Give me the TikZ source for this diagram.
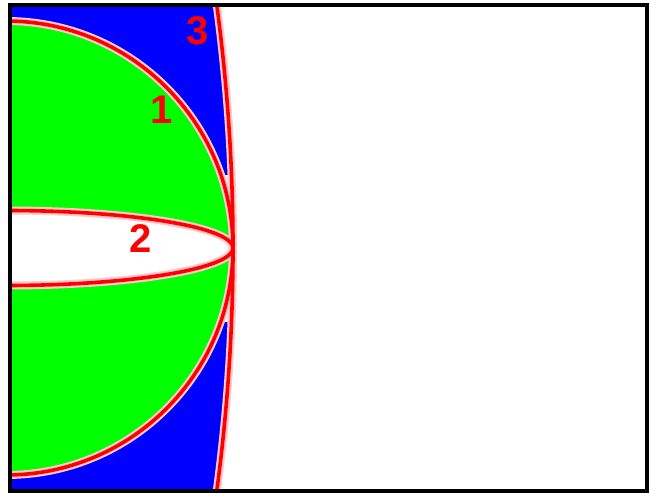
\documentclass[tikz,border=0pt]{standalone}
\usepackage{fontspec}
\setmainfont{Liberation Sans}
\definecolor{region}{RGB}{0,0,255}
\definecolor{disc}{RGB}{0,255,0}
\definecolor{front}{RGB}{255,0,0}
\tikzset{
  frontline/.style={draw=front, line width=1.8pt},
  frontglow/.style={draw=front!22, line width=4pt},
  tag/.style={text=front, font=\fontsize{20}{20}\selectfont\bfseries, inner sep=0pt}
}

\begin{document}
\begin{tikzpicture}[x=0.5pt,y=0.5pt]
  \useasboundingbox (0,0) rectangle (650,493);
  \coordinate (sw) at (12,4);
  \coordinate (ne) at (645.5,486);
  \coordinate (mid) at (6,245);
  \coordinate (f3top) at (216.5,490);
  \coordinate (f3bot) at (216.5,0);
  \begin{scope}
    \clip (sw) rectangle (ne);
    % blue strip, dropped where it gets too thin
    \begin{scope}
      \clip (0,0) rectangle (650,171) (0,318) rectangle (650,493);
      \fill[region] (0,490) -- (f3top) .. controls (238.5,326.7) and (238.5,163.3) .. (f3bot) -- (0,0) -- cycle;
    \end{scope}
    \fill[disc] (mid) circle[radius=227];
    \fill[white] (mid) ellipse[x radius=227, y radius=37.5];
    % fronts
    \foreach \sty in {frontglow,frontline} {
      \draw[\sty] (mid) circle[radius=227];
      \draw[\sty] (mid) ellipse[x radius=227, y radius=37.5];
      \draw[\sty] (f3top) .. controls (238.5,326.7) and (238.5,163.3) .. (f3bot);
    }
  \end{scope}
  \node[tag] (lblthree) at (198,462) {3};
  \node[tag] (lblone) at (162,383) {1};
  \node[tag] (lbltwo) at (141,254) {2};
  \draw[line width=2pt] (10,2) rectangle (647.5,488);
\end{tikzpicture}
\end{document}
